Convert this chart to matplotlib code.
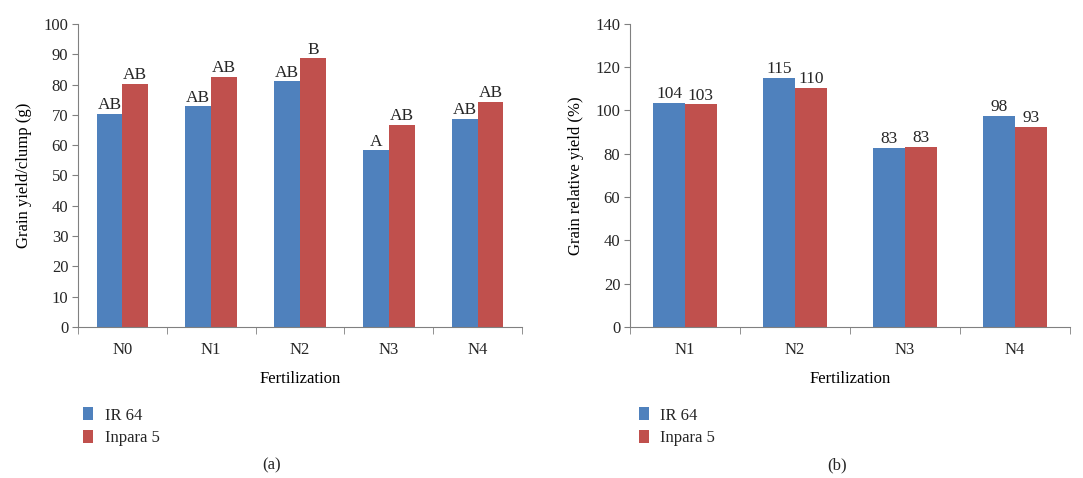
#!/usr/bin/env python3

import numpy as np
import matplotlib
matplotlib.use("Agg")
import matplotlib.pyplot as plt


# -----------------------------------------------------
# Data
# -----------------------------------------------------

CATS_A = ["N0", "N1", "N2", "N3", "N4"]
IR64_A = [70.3, 72.8, 81.0, 58.3, 68.6]
INPARA_A = [80.2, 82.5, 88.6, 66.8, 74.3]
IR64_A_LETTERS = ["AB", "AB", "AB", "A", "AB"]
INPARA_A_LETTERS = ["AB", "AB", "B", "AB", "AB"]

CATS_B = ["N1", "N2", "N3", "N4"]
IR64_B = [103.5, 115.2, 82.7, 97.5]
INPARA_B = [102.9, 110.6, 83.3, 92.6]
IR64_B_LABELS = ["104", "115", "83", "98"]
INPARA_B_LABELS = ["103", "110", "83", "93"]

SERIES_NAMES = ["IR 64", "Inpara 5"]


# -----------------------------------------------------
# Style
# -----------------------------------------------------

BLUE = "#4F81BD"
RED = "#C0504D"
AXIS_COLOR = "#808080"
TEXT_COLOR = "#262626"
BAR_WIDTH = 0.29
FONT_SIZE = 12

plt.rcParams["font.family"] = ["Liberation Serif", "DejaVu Serif"]
plt.rcParams["font.size"] = FONT_SIZE
plt.rcParams["text.color"] = TEXT_COLOR


def draw_panel(ax, cats, ir, inpara, ir_labels, inpara_labels,
               ylim, ystep, ylabel):
    x = np.arange(len(cats))
    b1 = ax.bar(x - BAR_WIDTH / 2, ir, BAR_WIDTH, color=BLUE, label=SERIES_NAMES[0])
    b2 = ax.bar(x + BAR_WIDTH / 2, inpara, BAR_WIDTH, color=RED, label=SERIES_NAMES[1])

    ax.bar_label(b1, labels=ir_labels, padding=0.5, fontsize=FONT_SIZE + 0.5)
    ax.bar_label(b2, labels=inpara_labels, padding=0.5, fontsize=FONT_SIZE + 0.5)

    ax.set_xlim(-0.5, len(cats) - 0.5)
    ax.set_ylim(ylim)
    ax.set_yticks(np.arange(ylim[0], ylim[1] + 1, ystep))

    # category labels centred, tick marks on the boundaries
    ax.set_xticks(x)
    ax.set_xticklabels(cats)
    ax.tick_params(axis="x", which="major", length=0, pad=11)
    ax.set_xticks(np.arange(len(cats) + 1) - 0.5, minor=True)
    ax.tick_params(axis="x", which="minor", length=5, color=AXIS_COLOR,
                   direction="out")
    ax.tick_params(axis="y", length=4, color=AXIS_COLOR, direction="out",
                   labelcolor=TEXT_COLOR, pad=3)
    ax.tick_params(axis="x", labelcolor=TEXT_COLOR)

    for side in ["top", "right"]:
        ax.spines[side].set_visible(False)
    for side in ["left", "bottom"]:
        ax.spines[side].set_color(AXIS_COLOR)

    ax.set_ylabel(ylabel, fontsize=FONT_SIZE, labelpad=8)
    ax.set_xlabel("Fertilization", fontsize=FONT_SIZE, labelpad=9)
    return b1, b2


def main():
    fig = plt.figure(figsize=(10.83, 4.78), dpi=100)

    ax_a = fig.add_axes([0.072, 0.316, 0.410, 0.634])
    ax_b = fig.add_axes([0.5817, 0.316, 0.4063, 0.634])

    draw_panel(ax_a, CATS_A, IR64_A, INPARA_A, IR64_A_LETTERS, INPARA_A_LETTERS,
               (0, 100), 10, "Grain yield/clump (g)")
    draw_panel(ax_b, CATS_B, IR64_B, INPARA_B, IR64_B_LABELS, INPARA_B_LABELS,
               (0, 140), 20, "Grain relative yield (%)")

    for ax, lx in [(ax_a, 0.063), (ax_b, 0.576)]:
        ax.legend(loc="upper left", bbox_to_anchor=(lx, 0.179),
                  bbox_transform=fig.transFigure, frameon=False,
                  handlelength=0.6, handleheight=0.8, handletextpad=0.7,
                  labelspacing=0.4, fontsize=FONT_SIZE)

    fig.text(272 / 1083, 1 - 465 / 478, "(a)", ha="center", va="center",
             fontsize=FONT_SIZE)
    fig.text(837 / 1083, 1 - 465 / 478, "(b)", ha="center", va="center",
             fontsize=FONT_SIZE)

    fig.savefig("out.png", dpi=100)


if __name__ == "__main__":
    main()
